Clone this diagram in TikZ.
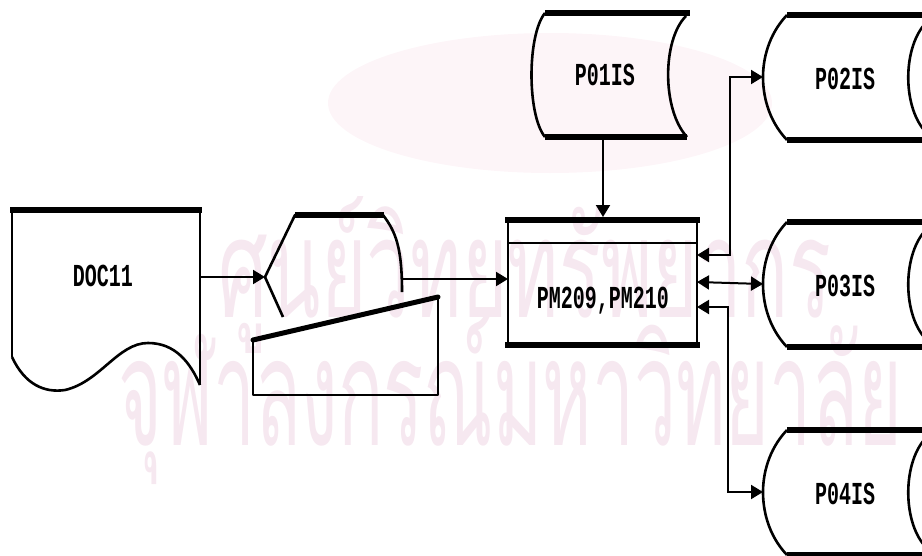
\documentclass[tikz,border=0pt]{standalone}
\usepackage{fontspec}
\usepackage{graphicx}
\usetikzlibrary{arrows.meta}
\newfontfamily\lblfont{Liberation Mono}
\newfontfamily\thaifont[Script=Thai]{Loma}
\definecolor{wmpink}{RGB}{246,232,240}
\definecolor{wmback}{RGB}{253,245,248}
\newcommand{\plbl}[1]{\scalebox{1}[1.6]{#1}}
\tikzset{
  outline/.style={line width=2.6pt,line join=round},
  heavy/.style={line width=5.5pt,line cap=butt},
  flow/.style={line width=2pt,-{Triangle[length=12pt,width=14pt]}},
  flowboth/.style={line width=2pt,{Triangle[length=12pt,width=14pt]}-{Triangle[length=12pt,width=14pt]}},
  lbl/.style={font=\lblfont\bfseries\fontsize{20}{20}\selectfont,inner sep=0pt},
  wmark/.style={font=\thaifont\fontsize{150}{150}\selectfont,text=wmpink,inner sep=0pt,anchor=base west}
}
\begin{document}
\begin{tikzpicture}[x=1pt,y=-1pt]
\useasboundingbox (0,0) rectangle (922,555);
% watermark
\fill[wmback] (550,103) ellipse (222pt and 70pt);
\node[wmark] (wmtop) at (218,317) {\scalebox{0.52}[0.92]{ศูนย์วิทยทรัพยากร}};
\node[wmark] (wmbot) at (118,445) {\scalebox{0.5}[1]{จุฬาลงกรณ์มหาวิทยาลัย}};
% document
\coordinate (doc-e) at (200,277);
\draw[outline] (12,357) -- (12,210) -- (200,210) -- (200,385);
\draw[heavy] (10,210) -- (202,210);
\draw[outline] (12,357) .. controls (25,385) and (45,393) .. (65,390)
  .. controls (100,382) and (118,343) .. (148,343)
  .. controls (175,343) and (190,362) .. (200,385);
\node[lbl] (doc) at (103,276) {\plbl{DOC11}};
% display + keyboard
\coordinate (disp-w) at (265,277);
\coordinate (disp-e) at (402,279);
\draw[outline] (283,317) -- (disp-w) -- (295,215) -- (383,215)
  .. controls (396,232) and (402,248) .. (402,292);
\draw[heavy] (295,215) -- (384,215);
\draw[outline] (438,297) -- (438,395) -- (253,395) -- (253,340);
\draw[line width=5pt,line cap=round] (253,340) -- (438,297);
% PM box
\coordinate (pm-w) at (508,279);
\coordinate (pm-n) at (603,217);
\coordinate (pm-e1) at (697,255);
\coordinate (pm-e2) at (697,282);
\coordinate (pm-e3) at (697,307);
\draw[outline] (508,220) rectangle (697,345);
\draw[outline] (508,243) -- (697,243);
\draw[heavy,line width=6.5pt] (505,220) -- (700,220);
\draw[heavy,line width=6.5pt] (505,345) -- (700,345);
\node[lbl] (pm) at (603,301) {\plbl{PM209,PM210}};
% P01IS
\coordinate (p01-s) at (603,137);
\draw[outline] (545,13) .. controls (527,35) and (527,115) .. (545,137);
\draw[outline] (686,16) .. controls (662,40) and (662,110) .. (687,137);
\draw[heavy] (545,13) -- (690,13);
\draw[heavy] (545,137) -- (687,137);
\node[lbl] (p01) at (605,75) {\plbl{P01IS}};
% P02IS .. P04IS
\foreach \n/\yt in {2/15,3/222,4/430}{
  \coordinate (p0\n-w) at (763,\yt+62);
  \draw[outline] (787,\yt) .. controls (768,\yt+20) and (763,\yt+45) .. (p0\n-w)
    .. controls (763,\yt+80) and (768,\yt+105) .. (787,\yt+125);
  \draw[outline] (924,\yt+10) .. controls (903,\yt+35) and (903,\yt+90) .. (924,\yt+115);
  \draw[heavy] (787,\yt) -- (925,\yt);
  \draw[heavy] (787,\yt+125) -- (925,\yt+125);
  \node[lbl] (p0\n) at (845,\yt+64) {\plbl{P0\n IS}};
}
% flows
\draw[flow] (doc-e) -- (disp-w);
\draw[flow] (disp-e) -- (pm-w);
\draw[flow] (p01-s) -- (pm-n);
\draw[flowboth] (pm-e1) -| (730,77) -- (p02-w);
\draw[flowboth] (pm-e2) -- (p03-w);
\draw[flowboth] (pm-e3) -| (728,492) -- (p04-w);
\end{tikzpicture}
\end{document}
